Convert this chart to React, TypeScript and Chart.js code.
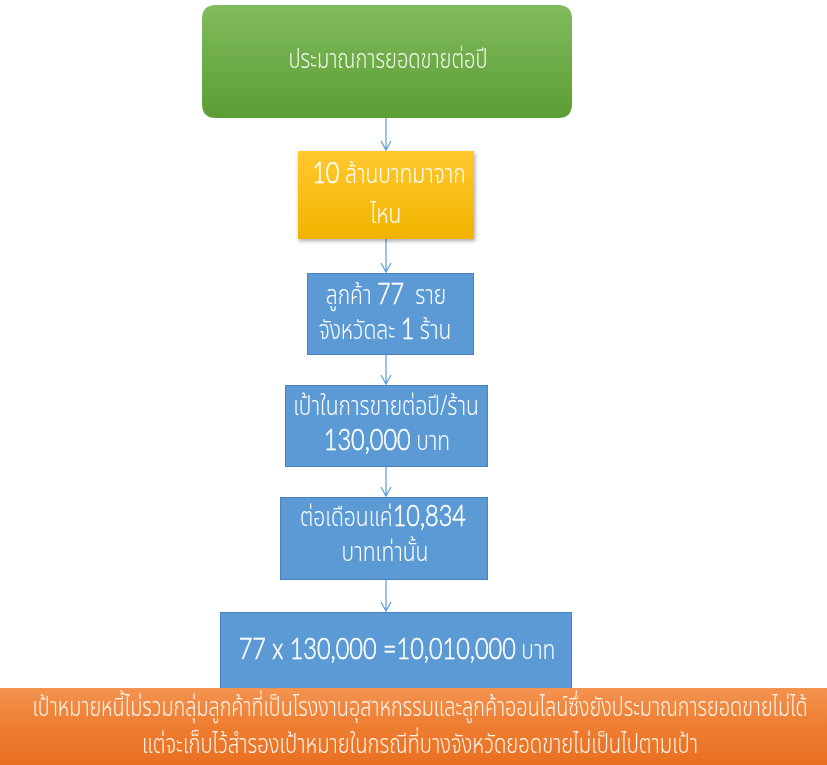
import { useEffect, useRef } from "react";
import { Chart, registerables } from "chart.js";

Chart.register(...registerables);

// ---- content (text segments: [text, 1 = large number style, 0 = normal]) ----
type Seg = [string, number];
const step1Lines: Seg[][] = [[["ประมาณการยอดขายต่อปี", 0]]];
const step2Lines: Seg[][] = [[["10", 1], [" ล้านบาทมาจาก", 0]], [["ไหน", 0]]];
const step3Lines: Seg[][] = [
  [["ลูกค้า ", 0], ["77", 1], ["  ราย", 0]],
  [["จังหวัดละ ", 0], ["1", 1], [" ร้าน", 0]],
];
const step4Lines: Seg[][] = [[["เป้าในการขายต่อปี/ร้าน", 0]], [["130,000", 1], [" บาท", 0]]];
const step5Lines: Seg[][] = [[["ต่อเดือนแค่", 0], ["10,834", 1]], [["บาทเท่านั้น", 0]]];
const step6Lines: Seg[][] = [[["77 x 130,000 =10,010,000", 1], [" บาท", 0]]];
const noteLines: Seg[][] = [
  [["เป้าหมายหนี้ไม่รวมกลุ่มลูกค้าที่เป็นโรงงานอุสาหกรรมและลูกค้าออนไลน์ซึ่งยังประมาณการยอดขายไม่ได้", 0]],
  [["แต่จะเก็บไว้สำรองเป้าหมายในกรณีที่บางจังหวัดยอดขายไม่เป็นไปตามเป้า", 0]],
];
const flowSteps: Seg[][][] = [step1Lines, step2Lines, step3Lines, step4Lines, step5Lines, step6Lines];

// ---- layout (diagram units, mapped through chart scales) ----
// r: box rect, cx: line centres, base: line baselines
const BOXES = [
  { r: [202, 5, 572, 118], cx: [388], base: [68], style: "green" },
  { r: [298, 151, 474, 239], cx: [389, 386], base: [183, 223], style: "yellow" },
  { r: [307, 273, 474, 355], cx: [386, 385], base: [304, 339], style: "blue" },
  { r: [285, 385, 488, 467], cx: [386, 387], base: [415, 450], style: "blue" },
  { r: [280, 497, 488, 580], cx: [383, 385], base: [526, 561], style: "blue" },
  { r: [220, 612, 572, 702], cx: [397], base: [659], style: "blue" },
];
const NOTE = { r: [0, 688, 827, 765], cx: [420, 420], base: [716, 753], w: [775, 556] };
const TITLE_WIDTH = 199; // reference width of the first box's line, sets the Thai squeeze
const THAI_BOOST = 1.05; // other box lines run a little wider than the title
const ARROW_X = 386;
const NUM_SQUEEZE = 0.81;

const THAI_FONT = "'Noto Sans Thai', Loma, Garuda, 'Noto Sans', sans-serif";
const NUM_FONT = "Lato, Carlito, 'Noto Sans', sans-serif";

const flowPlugin = {
  id: "flow",
  beforeDatasetsDraw(chart: any) {
    const ctx: CanvasRenderingContext2D = chart.ctx;
    const sx = chart.scales.x;
    const sy = chart.scales.y;
    const X = (v: number) => sx.getPixelForValue(v);
    const Y = (v: number) => sy.getPixelForValue(v);
    const SMALL = 27;
    const BIG = 29;

    const font = (s: Seg, small: number, big: number) =>
      s[1] ? `300 ${big}px ${NUM_FONT}` : `300 ${small}px ${THAI_FONT}`;

    ctx.font = font(step1Lines[0][0], SMALL, BIG);
    const titleK = (X(TITLE_WIDTH) - X(0)) / ctx.measureText(step1Lines[0][0][0]).width;

    const drawLines = (
      lines: Seg[][], cxs: number[], bases: number[], small: number, big: number, color: string,
      kThai: (i: number, w: number) => number
    ) => {
      ctx.fillStyle = color;
      ctx.strokeStyle = color;
      ctx.textBaseline = "alphabetic";
      ctx.textAlign = "left";
      lines.forEach((line, i) => {
        let wT = 0;
        const ws = line.map((s) => {
          ctx.font = font(s, small, big);
          const m = ctx.measureText(s[0]).width;
          if (!s[1]) wT += m;
          return m;
        });
        const kT = kThai(i, wT);
        const total = line.reduce((acc, s, j) => acc + ws[j] * (s[1] ? NUM_SQUEEZE : kT), 0);
        let x = X(cxs[i]) - total / 2;
        line.forEach((s, j) => {
          const k = s[1] ? NUM_SQUEEZE : kT;
          ctx.save();
          ctx.translate(x, Y(bases[i]));
          ctx.scale(k, 1);
          ctx.font = font(s, small, big);
          ctx.fillText(s[0], 0, 0);
          if (s[1]) {
            ctx.lineWidth = 0.6;
            ctx.strokeText(s[0], 0, 0);
          }
          ctx.restore();
          x += ws[j] * k;
        });
      });
    };

    const rrect = (x0: number, y0: number, x1: number, y1: number, rad: number) => {
      ctx.beginPath();
      ctx.moveTo(x0 + rad, y0);
      ctx.lineTo(x1 - rad, y0);
      ctx.quadraticCurveTo(x1, y0, x1, y0 + rad);
      ctx.lineTo(x1, y1 - rad);
      ctx.quadraticCurveTo(x1, y1, x1 - rad, y1);
      ctx.lineTo(x0 + rad, y1);
      ctx.quadraticCurveTo(x0, y1, x0, y1 - rad);
      ctx.lineTo(x0, y0 + rad);
      ctx.quadraticCurveTo(x0, y0, x0 + rad, y0);
      ctx.closePath();
    };

    // arrows
    ctx.save();
    ctx.strokeStyle = "#5b9bd5";
    ctx.lineWidth = 1.2;
    for (let i = 0; i < BOXES.length - 1; i++) {
      const yA = Y(BOXES[i].r[3]);
      const yB = Y(BOXES[i + 1].r[1]);
      const x = X(ARROW_X);
      ctx.beginPath();
      ctx.moveTo(x, yA);
      ctx.lineTo(x, yB - 1);
      ctx.moveTo(x - 5, yB - 10);
      ctx.lineTo(x, yB - 1);
      ctx.lineTo(x + 5, yB - 10);
      ctx.stroke();
    }
    ctx.restore();

    BOXES.forEach((b, i) => {
      const [a, b0, c, d] = b.r;
      const x0 = X(a), y0 = Y(b0), x1 = X(c), y1 = Y(d);
      ctx.save();
      if (b.style === "green") {
        const g = ctx.createLinearGradient(0, y0, 0, y1);
        g.addColorStop(0, "#80bb5c");
        g.addColorStop(1, "#5c9d35");
        ctx.fillStyle = g;
        rrect(x0, y0, x1, y1, 14);
        ctx.fill();
      } else if (b.style === "yellow") {
        ctx.shadowColor = "rgba(0,0,0,0.35)";
        ctx.shadowBlur = 4;
        ctx.shadowOffsetX = 1;
        ctx.shadowOffsetY = 2;
        const g = ctx.createLinearGradient(0, y0, 0, y1);
        g.addColorStop(0, "#ffc82e");
        g.addColorStop(1, "#f2b400");
        ctx.fillStyle = g;
        ctx.fillRect(x0, y0, x1 - x0, y1 - y0);
      } else {
        ctx.fillStyle = "#5b9ad5";
        ctx.fillRect(x0, y0, x1 - x0, y1 - y0);
        ctx.strokeStyle = "#4a82bd";
        ctx.lineWidth = 1;
        ctx.strokeRect(x0 + 0.5, y0 + 0.5, x1 - x0 - 1, y1 - y0 - 1);
      }
      ctx.restore();
      const col = b.style === "green" ? "#f4f8ef" : "#ffffff";
      const k = i === 0 ? titleK : titleK * THAI_BOOST;
      drawLines(flowSteps[i], b.cx, b.base, SMALL, BIG, col, () => k);
    });

    // note banner
    {
      const [a, b0, c, d] = NOTE.r;
      const x0 = X(a), y0 = Y(b0), x1 = X(c), y1 = Y(d);
      const g = ctx.createLinearGradient(0, y0, 0, y1);
      g.addColorStop(0, "#f39350");
      g.addColorStop(0.5, "#ee7d31");
      g.addColorStop(1, "#e96f22");
      ctx.fillStyle = g;
      ctx.fillRect(x0, y0, x1 - x0, y1 - y0);
      drawLines(noteLines, NOTE.cx, NOTE.base, 26, 26, "#fff6ee",
        (i, w) => (X(NOTE.w[i]) - X(0)) / w);
    }
  },
};

export default function App() {
  const ref = useRef<HTMLCanvasElement | null>(null);
  useEffect(() => {
    if (!ref.current) return;
    const chart = new Chart(ref.current, {
      type: "scatter",
      data: { datasets: [{ data: [] }] },
      options: {
        animation: false,
        responsive: true,
        maintainAspectRatio: false,
        layout: { padding: 0 },
        plugins: { legend: { display: false }, tooltip: { enabled: false } },
        scales: {
          x: { type: "linear", min: 0, max: 827, display: false },
          y: { type: "linear", min: 0, max: 765, reverse: true, display: false },
        },
      },
      plugins: [flowPlugin],
    });
    return () => chart.destroy();
  }, []);
  return (
    <div style={{ position: "absolute", left: 0, top: 0, width: 827, height: 765, background: "#fff" }}>
      <canvas ref={ref} />
    </div>
  );
}
